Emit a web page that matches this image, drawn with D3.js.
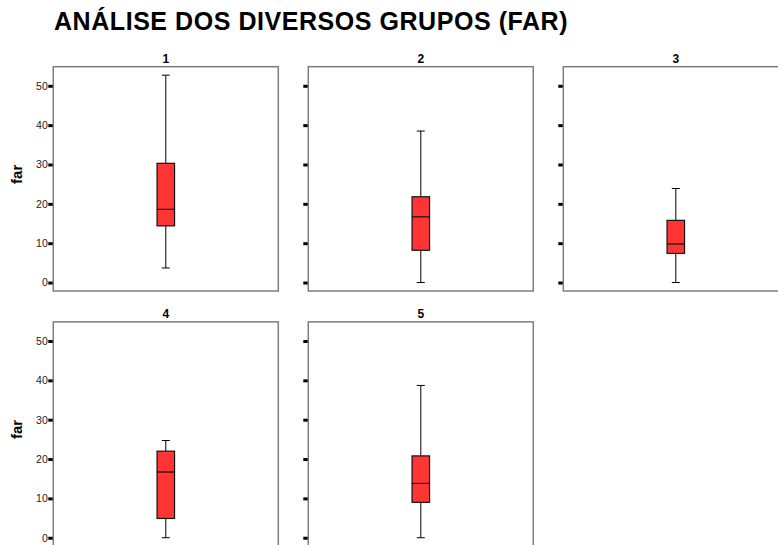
<!DOCTYPE html>
<html><head><meta charset="utf-8">
<script src="https://cdn.jsdelivr.net/npm/d3@7"></script>
<style>body{margin:0;background:#fff}svg{display:block}</style>
</head><body><svg id="chart" width="778" height="545"></svg>
<script>
// Five-number summaries of "far" for each group
const groups = ["1", "2", "3", "4", "5"];
const whiskerLow = [3.7, 0, 0, 0, 0];
const quartile1 = [14.4, 8.2, 7.4, 4.9, 9.0];
const medians = [18.6, 16.7, 9.8, 16.7, 13.8];
const quartile3 = [30.3, 21.8, 15.8, 22.0, 20.8];
const whiskerHigh = [52.7, 38.5, 23.9, 24.7, 38.7];
const yTicks = [0, 10, 20, 30, 40, 50];
const yLabel = "far";
const title = "ANÁLISE DOS DIVERSOS GRUPOS (FAR)";

const font = "'Liberation Sans', Arial, Helvetica, sans-serif";
const svg = d3.select("#chart").style("font-family", font);

const cols = 3;
const panelW = 225, panelH = 224.3;
const colLeft = c => 53.3 + c * 255;
const rowTop = r => 66.7 + r * 255.2;

svg.append("text")
  .attr("x", 54).attr("y", 29.5)
  .attr("font-size", 25).attr("font-weight", "bold")
  .attr("letter-spacing", 0.55)
  .attr("fill", "#000")
  .text(title);

const y = d3.scaleLinear().domain([-2.15, 54.85]).range([panelH, 0]);
const boxW = 17.5, capW = 8;

groups.forEach((g, i) => {
  const c = i % cols, r = Math.floor(i / cols);
  const p = svg.append("g").attr("transform", `translate(${colLeft(c)},${rowTop(r)})`);
  const x = d3.scalePoint().domain([g]).range([0, panelW]).padding(0.5);
  const cx = x(g);

  // panel heading
  p.append("text")
    .attr("x", panelW / 2).attr("y", -3.5)
    .attr("text-anchor", "middle")
    .attr("font-size", 12).attr("font-weight", "bold")
    .text(g);

  // y axis: short heavy ticks, labels only on the first column
  const axis = d3.axisLeft(y).tickValues(yTicks).tickSize(5).tickPadding(0.5)
    .tickFormat(c === 0 ? d3.format("d") : () => "");
  const ax = p.append("g").call(axis);
  ax.select(".domain").remove();
  ax.selectAll(".tick line").attr("stroke", "#000").attr("stroke-width", 3);
  ax.selectAll(".tick text").attr("fill", "#222").attr("font-size", 10.5)
    .attr("font-family", font);

  // frame
  p.append("rect")
    .attr("x", 0).attr("y", 0).attr("width", panelW).attr("height", panelH)
    .attr("fill", "none").attr("stroke", "#7d7d7d").attr("stroke-width", 1.5);

  // whisker
  p.append("line")
    .attr("x1", cx).attr("x2", cx)
    .attr("y1", y(whiskerLow[i])).attr("y2", y(whiskerHigh[i]))
    .attr("stroke", "#000").attr("stroke-width", 1);
  [whiskerLow[i], whiskerHigh[i]].forEach(v => {
    p.append("line")
      .attr("x1", cx - capW / 2).attr("x2", cx + capW / 2)
      .attr("y1", y(v)).attr("y2", y(v))
      .attr("stroke", "#000").attr("stroke-width", 1);
  });

  // box
  p.append("rect")
    .attr("x", cx - boxW / 2).attr("width", boxW)
    .attr("y", y(quartile3[i])).attr("height", y(quartile1[i]) - y(quartile3[i]))
    .attr("fill", "#ff3535").attr("stroke", "#111").attr("stroke-width", 1.2);

  // median
  p.append("line")
    .attr("x1", cx - boxW / 2).attr("x2", cx + boxW / 2)
    .attr("y1", y(medians[i])).attr("y2", y(medians[i]))
    .attr("stroke", "#111").attr("stroke-width", 1.2);

  // row label
  if (c === 0) {
    p.append("text")
      .attr("transform", `translate(-31,${y(27.5)}) rotate(-90)`)
      .attr("text-anchor", "middle")
      .attr("font-size", 15).attr("font-weight", "bold")
      .text(yLabel);
  }
});
</script>
</body></html>
